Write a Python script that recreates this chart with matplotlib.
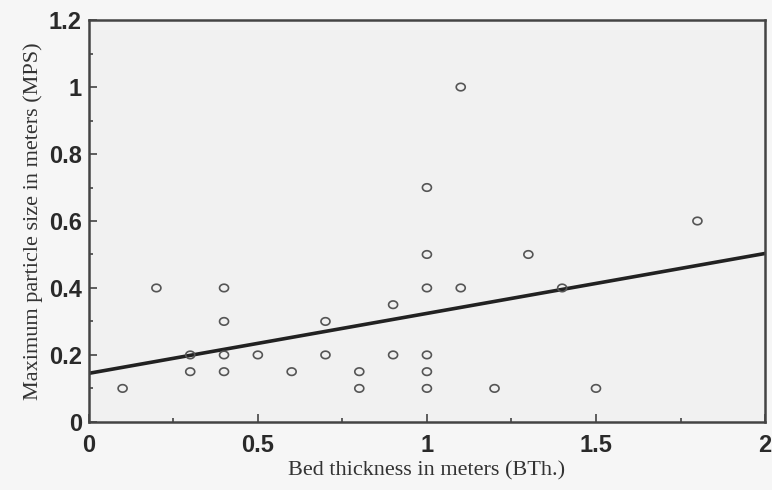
import matplotlib.pyplot as plt
import numpy as np
from matplotlib.ticker import MultipleLocator
from matplotlib.path import Path

# bed thickness (m) and maximum particle size (m)
bth = [0.1, 0.2, 0.3, 0.3, 0.4, 0.4, 0.4, 0.4, 0.5, 0.6, 0.7, 0.7,
       0.8, 0.8, 0.9, 0.9, 1.0, 1.0, 1.0, 1.0, 1.0, 1.0,
       1.1, 1.1, 1.2, 1.3, 1.4, 1.5, 1.8]
mps = [0.1, 0.4, 0.2, 0.15, 0.4, 0.3, 0.2, 0.15, 0.2, 0.15, 0.3, 0.2,
       0.15, 0.1, 0.35, 0.2, 0.7, 0.5, 0.4, 0.2, 0.15, 0.1,
       1.0, 0.4, 0.1, 0.5, 0.4, 0.1, 0.6]

# fitted line end points
fit_x = [0, 2]
fit_y = [0.145, 0.503]

# slightly flattened "o" marker like the scanned original
t = np.linspace(0, 2 * np.pi, 40)
oval = Path(np.column_stack([1.2 * np.cos(t), np.sin(t)]), closed=True)

fig = plt.figure(figsize=(7.72, 4.9), dpi=100, facecolor="#f6f6f6")
ax = fig.add_axes([0.115, 0.139, 0.876, 0.82])
ax.set_facecolor("#f1f1f1")

ax.plot(fit_x, fit_y, color="#222222", linewidth=2.6, zorder=2)
ax.scatter(bth, mps, s=42, marker=oval, facecolors="none", edgecolors="#555555",
           linewidths=1.2, zorder=3)

ax.set_xlim(0, 2)
ax.set_ylim(0, 1.2)
ax.xaxis.set_minor_locator(MultipleLocator(0.25))
ax.yaxis.set_minor_locator(MultipleLocator(0.1))
ax.set_xticks([0, 0.5, 1, 1.5, 2])
ax.set_xticklabels(["0", "0.5", "1", "1.5", "2"])
ax.set_yticks([0, 0.2, 0.4, 0.6, 0.8, 1, 1.2])
ax.set_yticklabels(["0", "0.2", "0.4", "0.6", "0.8", "1", "1.2"])

ax.tick_params(which="both", direction="in", color="#444444", width=1.2)
ax.tick_params(which="major", length=6, labelsize=17, labelcolor="#2a2a2a")
ax.tick_params(which="minor", length=3)
ax.tick_params(axis="x", pad=9)
ax.tick_params(axis="y", pad=5)
for lab in ax.get_xticklabels() + ax.get_yticklabels():
    lab.set_family("Liberation Sans")
    lab.set_weight("bold")
for sp in ax.spines.values():
    sp.set_color("#444444")
    sp.set_linewidth(1.8)

ax.set_xlabel("Bed thickness in meters (BTh.)", family="Liberation Serif",
              fontsize=16, color="#333333", labelpad=3)
ax.set_ylabel("Maximum particle size in meters (MPS)", family="Liberation Serif",
              fontsize=16, color="#333333", labelpad=4)

fig.savefig("out.png", dpi=100, facecolor=fig.get_facecolor())
